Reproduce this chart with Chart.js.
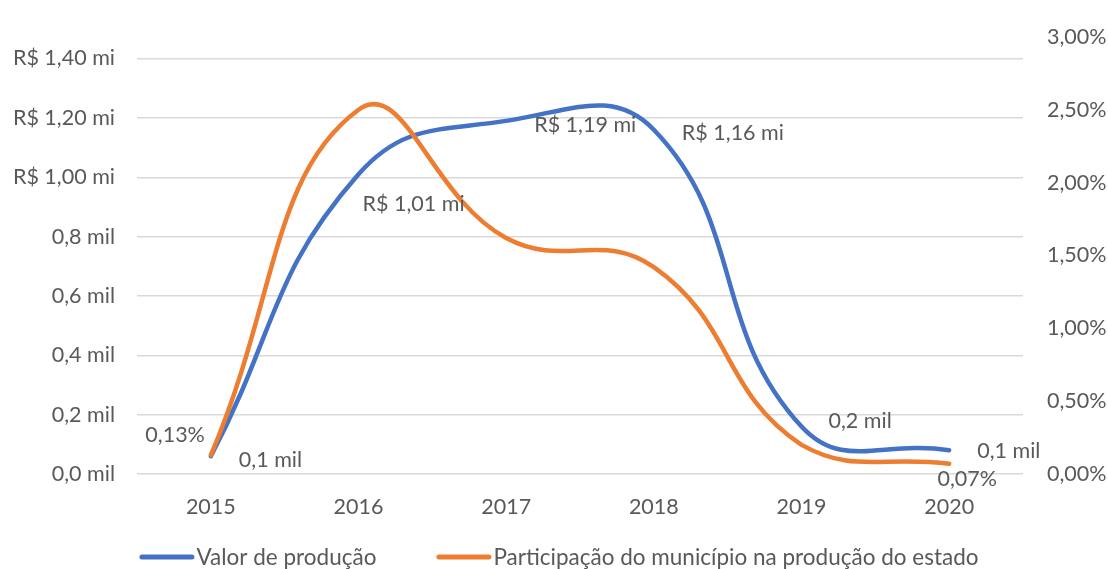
<!DOCTYPE html>
<html lang="pt-BR">
<head>
  <meta charset="UTF-8">
  <title>Valor de produção</title>
  <script src="https://cdn.jsdelivr.net/npm/chart.js"></script>
  <style>
    html, body { margin: 0; padding: 0; background: #fff; }
    #wrap { width: 1108px; height: 569px; }
  </style>
</head>
<body>
  <div id="wrap"><canvas id="prodChart" width="1108" height="569"></canvas></div>

  <script>
    const anos = ['2015', '2016', '2017', '2018', '2019', '2020'];
    // valor de produção (milhões de R$)
    const valorProducao = [0.06, 1.01, 1.19, 1.16, 0.16, 0.08];
    // participação do município na produção do estado (%)
    const participacao = [0.13, 2.50, 1.62, 1.42, 0.20, 0.07];
    const ticksValor = [0, 0.2, 0.4, 0.6, 0.8, 1.0, 1.2, 1.4];
    const ticksPart = [0, 0.5, 1.0, 1.5, 2.0, 2.5, 3.0];

    const AZUL = '#4472C4';
    const LARANJA = '#ED7D31';
    const TEXTO = '#595959';
    const FONTE = 'Lato, "Open Sans", sans-serif';
    const TAM = 21.5;

    const fmtValor = v => {
      const r = Math.round(v * 100) / 100;
      return r < 1 ? r.toFixed(1).replace('.', ',') + ' mil'
                   : 'R$ ' + r.toFixed(2).replace('.', ',') + ' mi';
    };
    const fmtPct = v => v.toFixed(2).replace('.', ',') + '%';

    // rótulos de dados: deslocamento em px a partir do ponto
    const rotulosValor = [
      { dx: 28, dy: 4, align: 'left' },
      { dx: 4, dy: 30, align: 'left' },
      { dx: 28, dy: 4, align: 'left' },
      { dx: 28, dy: 3, align: 'left' },
      { dx: 27, dy: -5, align: 'left' },
      { dx: 28, dy: 1, align: 'left' }
    ];
    const rotulosPart = [
      { dx: -6, dy: -20, align: 'right' },
      null, null, null, null,
      { dx: 18, dy: 15, align: 'center' }
    ];

    const dataLabels = {
      id: 'dataLabels',
      afterDatasetsDraw(chart) {
        const ctx = chart.ctx;
        ctx.save();
        ctx.font = TAM + 'px ' + FONTE;
        ctx.fillStyle = TEXTO;
        ctx.textBaseline = 'middle';
        const sets = [[0, rotulosValor, fmtValor], [1, rotulosPart, fmtPct]];
        sets.forEach(([di, pos, fmt]) => {
          const meta = chart.getDatasetMeta(di);
          const vals = chart.data.datasets[di].data;
          meta.data.forEach((pt, i) => {
            const p = pos[i];
            if (!p) return;
            ctx.textAlign = p.align;
            ctx.fillText(fmt(vals[i]), pt.x + p.dx, pt.y + p.dy);
          });
        });
        ctx.restore();
      }
    };

    // legenda embaixo: traço curto + texto, itens separados por 60px
    const legendaLinhas = {
      id: 'legendaLinhas',
      afterDraw(chart) {
        const ctx = chart.ctx;
        ctx.save();
        ctx.font = '22.5px ' + FONTE;
        ctx.textBaseline = 'middle';
        ctx.textAlign = 'left';
        const itens = chart.data.datasets.map(ds => ({
          texto: ds.label, cor: ds.borderColor, w: ctx.measureText(ds.label).width
        }));
        const traco = 55, gap = 2, sep = 60;
        const total = itens.reduce((s, it) => s + traco + gap + it.w, 0) + sep * (itens.length - 1);
        let x = (chart.width - total) / 2 + 5;
        const y = 557;
        itens.forEach(it => {
          ctx.strokeStyle = it.cor;
          ctx.lineWidth = 5;
          ctx.lineCap = 'round';
          ctx.beginPath();
          ctx.moveTo(x + 2.5, y);
          ctx.lineTo(x + traco - 2.5, y);
          ctx.stroke();
          ctx.fillStyle = TEXTO;
          ctx.fillText(it.texto, x + traco + gap, y + 1);
          x += traco + gap + it.w + sep;
        });
        ctx.restore();
      }
    };

    Chart.defaults.font.family = FONTE;
    Chart.defaults.font.size = TAM;
    Chart.defaults.color = TEXTO;

    new Chart(document.getElementById('prodChart'), {
      type: 'line',
      data: {
        labels: anos,
        datasets: [
          {
            label: 'Valor de produção',
            data: valorProducao,
            yAxisID: 'y',
            borderColor: AZUL,
            backgroundColor: AZUL,
            borderWidth: 4.5,
            borderCapStyle: 'round',
            tension: 0.45,
            pointRadius: 0,
            order: 2
          },
          {
            label: 'Participação do município na produção do estado',
            data: participacao,
            yAxisID: 'y1',
            borderColor: LARANJA,
            backgroundColor: LARANJA,
            borderWidth: 4.5,
            borderCapStyle: 'round',
            tension: 0.45,
            pointRadius: 0,
            order: 1
          }
        ]
      },
      options: {
        responsive: false,
        animation: false,
        layout: { padding: { top: 30, left: 0, right: 0, bottom: 0 } },
        plugins: {
          tooltip: { enabled: false },
          legend: { display: false }
        },
        scales: {
          x: {
            offset: true,
            grid: { display: false, drawTicks: false },
            border: { display: false },
            ticks: { padding: 20, color: TEXTO, maxRotation: 0 },
            afterFit: s => { s.height = 95; }
          },
          y: {
            position: 'left',
            min: 0,
            max: 1.4 * 444 / 422,
            grid: { color: '#D9D9D9', lineWidth: 1.5, drawTicks: false },
            border: { display: false },
            afterBuildTicks: s => { s.ticks = ticksValor.map(v => ({ value: v })); },
            ticks: { padding: 22, color: TEXTO, callback: v => fmtValor(v) },
            afterFit: s => { s.width = 137; }
          },
          y1: {
            position: 'right',
            min: 0,
            max: 3,
            grid: { display: false, drawTicks: false },
            border: { display: false },
            afterBuildTicks: s => { s.ticks = ticksPart.map(v => ({ value: v })); },
            ticks: { padding: 24, color: TEXTO, callback: v => fmtPct(v) },
            afterFit: s => { s.width = 85; }
          }
        }
      },
      plugins: [dataLabels, legendaLinhas]
    });
  </script>
</body>
</html>
